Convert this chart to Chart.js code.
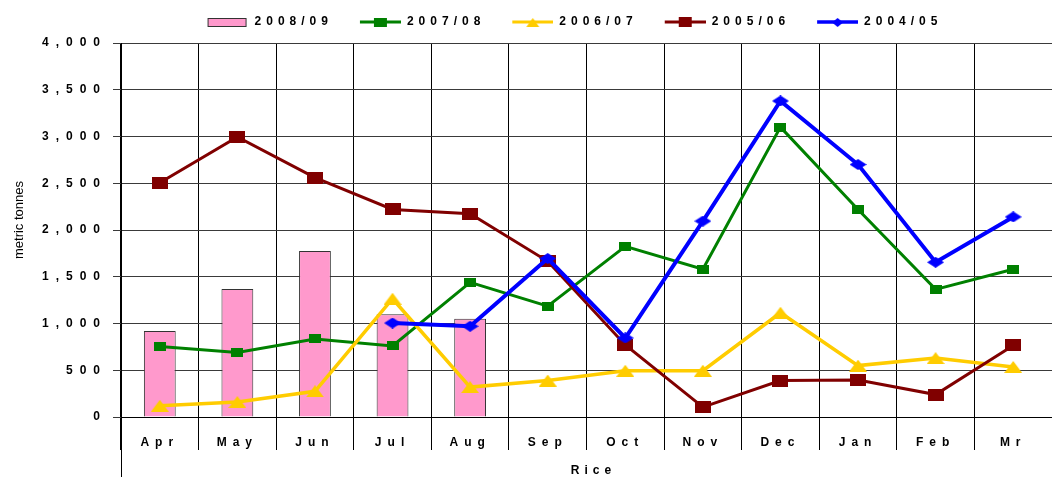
<!DOCTYPE html>
<html><head><meta charset="utf-8">
<script src="https://cdn.jsdelivr.net/npm/chart.js@4.4.0/dist/chart.umd.min.js"></script>
<style>html,body{margin:0;padding:0;background:#fff;overflow:hidden}</style>
</head><body>
<canvas id="c" width="1052" height="477" style="display:block;width:1052px;height:477px"></canvas>
<script>
// ---- data ----
const months = ['Apr','May','Jun','Jul','Aug','Sep','Oct','Nov','Dec','Jan','Feb','Mr'];
const seriesNames = ['2008/09','2007/08','2006/07','2005/06','2004/05'];
const s0809 = [920, 1370, 1775, 1100, 1050, null, null, null, null, null, null, null];
const s0708 = [755, 690, 835, 760, 1440, 1185, 1825, 1580, 3100, 2220, 1365, 1580];
const s0607 = [120, 160, 275, 1265, 320, 390, 495, 495, 1115, 550, 630, 535];
const s0506 = [2505, 2995, 2560, 2220, 2175, 1665, 770, 105, 390, 395, 240, 765];
const s0405 = [null, null, null, 1005, 970, 1695, 845, 2095, 3380, 2700, 1655, 2140];
const yMin = 0, yMax = 4000, yStep = 500;
const xTitle = 'Rice';
const yTitle = 'metric tonnes';

// ---- marker images ----
function marker(shape, w, h, color) {
  const c = document.createElement('canvas'); c.width = w; c.height = h;
  const x = c.getContext('2d'); x.fillStyle = color; x.beginPath();
  if (shape === 'rect') x.rect(0, 0, w, h);
  else if (shape === 'tri') { x.moveTo(w / 2, 0); x.lineTo(w, h); x.lineTo(0, h); x.closePath(); }
  else { x.moveTo(w / 2, 0); x.lineTo(w, h / 2); x.lineTo(w / 2, h); x.lineTo(0, h / 2); x.closePath(); }
  x.fill(); return c;
}
const LW = 62, LH = 14;
function legendLine(color, lw, mk) {
  const c = document.createElement('canvas'); c.width = LW; c.height = LH;
  const x = c.getContext('2d');
  x.strokeStyle = color; x.lineWidth = lw; x.beginPath(); x.moveTo(21, LH / 2); x.lineTo(LW, LH / 2); x.stroke();
  x.drawImage(mk, Math.round(41.5 - mk.width / 2), Math.round(LH / 2 - mk.height / 2));
  return c;
}
function legendBox() {
  const c = document.createElement('canvas'); c.width = LW; c.height = LH;
  const x = c.getContext('2d');
  x.fillStyle = '#FF99CC'; x.fillRect(21, 3, 39, 9);
  x.strokeStyle = '#333'; x.lineWidth = 1; x.strokeRect(21.5, 3.5, 38, 8);
  return c;
}
const C = { pink: '#FF99CC', green: '#008000', yellow: '#FFCC00', maroon: '#800000', blue: '#0000FF' };
const mGreen = marker('rect', 12, 9, C.green);
const mYellow = marker('tri', 18, 12, C.yellow);
const mMaroon = marker('rect', 16, 12, C.maroon);
const mBlue = marker('diamond', 17, 11, C.blue);
const legendImgs = [
  legendBox(),
  legendLine(C.green, 3, marker('rect', 13, 9, C.green)),
  legendLine(C.yellow, 3, marker('tri', 13, 9, C.yellow)),
  legendLine(C.maroon, 3, marker('rect', 13, 10, C.maroon)),
  legendLine(C.blue, 3.5, marker('diamond', 11, 9, C.blue))
];

function patchScale(scale, ls, titleShift) {
  if (!scale || scale._lsPatched) return;
  const orig = scale.drawLabels;
  scale._computeLabelArea = () => undefined;
  scale.drawLabels = function (a) { const c = this.ctx; c.save(); c.letterSpacing = ls; orig.call(this, a); c.restore(); };
  if (titleShift) {
    const ot = scale.drawTitle;
    scale.drawTitle = function () { const c = this.ctx; c.save(); c.translate(titleShift, 0); ot.call(this); c.restore(); };
  }
  scale._lsPatched = true;
}
const spacingPlugin = {
  id: 'spacing',
  beforeUpdate(chart) {
    chart.ctx.letterSpacing = '5px';
    const lg = chart.legend;
    if (lg && !lg._fitPatched) {
      const of = lg.fit;
      lg.fit = function () { of.call(this); this.height = 33; };
      lg._fitPatched = true;
    }
  },
  beforeDraw(chart) {
    chart.ctx.letterSpacing = '5px';
    patchScale(chart.scales.x, '6px', 7);
    patchScale(chart.scales.y, '7px', 0);
  },
  afterDraw(chart) {
    const ctx = chart.ctx, a = chart.chartArea;
    ctx.save();
    ctx.letterSpacing = '0px';
    ctx.strokeStyle = '#000'; ctx.lineWidth = 1;
    ctx.beginPath(); ctx.moveTo(Math.floor(a.left) + 0.5, a.bottom); ctx.lineTo(Math.floor(a.left) + 0.5, chart.height); ctx.stroke();
    ctx.translate(19, 220); ctx.rotate(-Math.PI / 2);
    ctx.font = '13px "Liberation Sans", Arial, sans-serif'; ctx.fillStyle = '#000';
    ctx.textAlign = 'center'; ctx.textBaseline = 'middle';
    ctx.fillText(yTitle, 0, 0);
    ctx.restore();
  }
};

const F = '"Liberation Sans", Arial, sans-serif';
new Chart(document.getElementById('c'), {
  type: 'bar',
  data: {
    labels: months,
    datasets: [
      { type: 'bar', label: seriesNames[0], data: s0809, backgroundColor: C.pink, borderColor: '#333', borderWidth: 1, barPercentage: 0.41, categoryPercentage: 1, order: 5 },
      { type: 'line', label: seriesNames[1], data: s0708, borderColor: C.green, borderWidth: 3, pointStyle: mGreen, pointRadius: 5, tension: 0, fill: false, order: 4 },
      { type: 'line', label: seriesNames[2], data: s0607, borderColor: C.yellow, borderWidth: 3.5, pointStyle: mYellow, pointRadius: 5, tension: 0, fill: false, order: 3 },
      { type: 'line', label: seriesNames[3], data: s0506, borderColor: C.maroon, borderWidth: 3, pointStyle: mMaroon, pointRadius: 5, tension: 0, fill: false, order: 2 },
      { type: 'line', label: seriesNames[4], data: s0405, borderColor: C.blue, borderWidth: 4, pointStyle: mBlue, pointRadius: 5, tension: 0, fill: false, order: 1 }
    ]
  },
  options: {
    responsive: false, animation: false, events: [],
    layout: { autoPadding: false, padding: { top: 10, left: 77, right: 0, bottom: 0 } },
    plugins: {
      tooltip: { enabled: false },
      legend: {
        position: 'top',
        labels: {
          usePointStyle: true, pointStyleWidth: LW, boxHeight: 12, padding: 6,
          color: '#000', font: { family: F, size: 12, weight: 'bold' },
          generateLabels: (chart) => chart.data.datasets.map((ds, i) => ({
            text: ds.label, pointStyle: legendImgs[i], datasetIndex: i, hidden: false,
            fontColor: '#000', lineWidth: 0, fillStyle: 'rgba(0,0,0,0)', strokeStyle: 'rgba(0,0,0,0)'
          }))
        }
      }
    },
    scales: {
      x: {
        offset: true,
        grid: { offset: true, color: '#000', lineWidth: 1, tickLength: 33, drawTicks: true },
        border: { color: '#000', width: 1 },
        ticks: { color: '#000', font: { family: F, size: 12, weight: 'bold' }, padding: -15, maxRotation: 0, autoSkip: false },
        title: { display: true, text: xTitle, color: '#000', font: { family: F, size: 12, weight: 'bold' }, padding: { top: 0, bottom: -1 } },
        afterFit: (s) => { s.height = 60; s.paddingLeft = 0; s.paddingRight = 0; }
      },
      y: {
        min: yMin, max: yMax,
        grid: { color: '#3a3a3a', lineWidth: 1, tickLength: 8 },
        border: { color: '#000', width: 1 },
        ticks: { stepSize: yStep, color: '#000', padding: 6, font: { family: F, size: 12, weight: 'bold' },
          callback: (v) => Number(v).toLocaleString('en-US') },
        afterFit: (s) => { s.width = 44; }
      }
    }
  },
  plugins: [spacingPlugin]
});
</script>
</body></html>
